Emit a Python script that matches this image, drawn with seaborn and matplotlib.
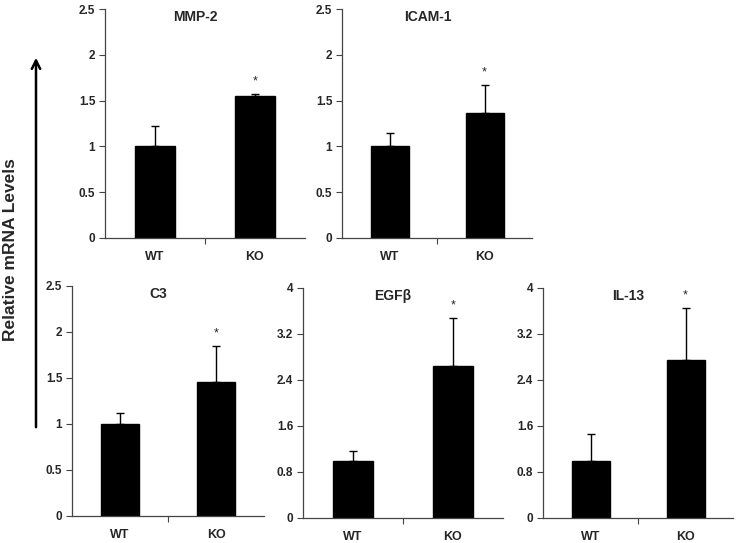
import matplotlib
matplotlib.use("Agg")
import matplotlib.pyplot as plt
import seaborn as sns
import pandas as pd
import numpy as np

sns.set_theme(style="white")
plt.rcParams['font.family'] = ['Liberation Sans', 'DejaVu Sans']
plt.rcParams['font.weight'] = 'bold'

groups = ["WT", "KO"]
genes = ["MMP-2", "ICAM-1", "C3", "EGFβ", "IL-13"]
means = {
    "MMP-2": [1.0, 1.555],
    "ICAM-1": [1.0, 1.36],
    "C3": [0.995, 1.457],
    "EGFβ": [0.99, 2.65],
    "IL-13": [0.99, 2.75],
}
errs = {
    "MMP-2": [0.22, 0.012],
    "ICAM-1": [0.15, 0.305],
    "C3": [0.13, 0.39],
    "EGFβ": [0.17, 0.83],
    "IL-13": [0.47, 0.90],
}
yticks_small = [0, 0.5, 1, 1.5, 2, 2.5]
ytick_labels_small = ["0", "0.5", "1", "1.5", "2", "2.5"]
yticks_large = [0, 0.8, 1.6, 2.4, 3.2, 4]
ytick_labels_large = ["0", "0.8", "1.6", "2.4", "3.2", "4"]
star_label = "*"
ylabel = "Relative mRNA Levels"

W, H = 736, 543
fig = plt.figure(figsize=(W / 100, H / 100), dpi=100)

# axes rectangles in pixels: left, top, right, bottom
rects = {
    "MMP-2": (105, 9, 305, 238),
    "ICAM-1": (342, 9, 532, 238),
    "C3": (72, 286, 264, 516),
    "EGFβ": (303, 288, 503, 518),
    "IL-13": (543, 288, 733, 518),
}

for g in genes:
    l, t, r, b = rects[g]
    ax = fig.add_axes([l / W, (H - b) / H, (r - l) / W, (b - t) / H])
    df = pd.DataFrame({"group": groups, "value": means[g]})
    sns.barplot(data=df, x="group", y="value", color="black", width=0.4,
                saturation=1, errorbar=None, ax=ax, edgecolor="black")
    ax.errorbar([0, 1], means[g], yerr=[np.zeros(2), errs[g]], fmt="none",
                ecolor="black", elinewidth=1.0, capsize=3, capthick=1.0)
    ax.annotate(star_label, xy=(1, means[g][1] + errs[g][1]),
                xytext=(0, 5), textcoords="offset points", ha="center",
                va="bottom", fontsize=9, fontweight="normal")
    if g in ("EGFβ", "IL-13"):
        ax.set_ylim(0, 4)
        ax.set_yticks(yticks_large)
        ax.set_yticklabels(ytick_labels_large)
    else:
        ax.set_ylim(0, 2.5)
        ax.set_yticks(yticks_small)
        ax.set_yticklabels(ytick_labels_small)
    ax.set_xlim(-0.5, 1.5)
    ax.set_xlabel("")
    ax.set_ylabel("")
    ax.set_xticks([0.5], minor=True)
    ax.tick_params(axis="x", which="major", length=0, pad=9, labelsize=9)
    ax.tick_params(axis="x", which="minor", length=4, width=0.8, direction="out", bottom=True, color="#444444")
    ax.tick_params(axis="y", which="major", length=4, width=0.8, direction="out", left=True, labelsize=8.5, color="#444444", pad=3)
    for lab in ax.get_xticklabels() + ax.get_yticklabels():
        lab.set_fontweight("bold")
    for s in ("top", "right"):
        ax.spines[s].set_visible(False)
    for s in ("left", "bottom"):
        ax.spines[s].set_color("#444444")
        ax.spines[s].set_linewidth(0.9)
    ax.text(0.45, 0.965, g, transform=ax.transAxes, ha="center", va="center",
            fontsize=10, fontweight="bold")

# left arrow and label
fig.add_artist(matplotlib.patches.FancyArrowPatch(
    (36 / W, (H - 430) / H), (36 / W, (H - 55) / H), transform=fig.transFigure,
    arrowstyle="->,head_length=6,head_width=3", lw=1.8, color="black", mutation_scale=1))
fig.text(11 / W, (H - 250) / H, ylabel, rotation=90, ha="center", va="center",
         fontsize=12.5, fontweight="bold")

fig.savefig("out.png", dpi=100)
